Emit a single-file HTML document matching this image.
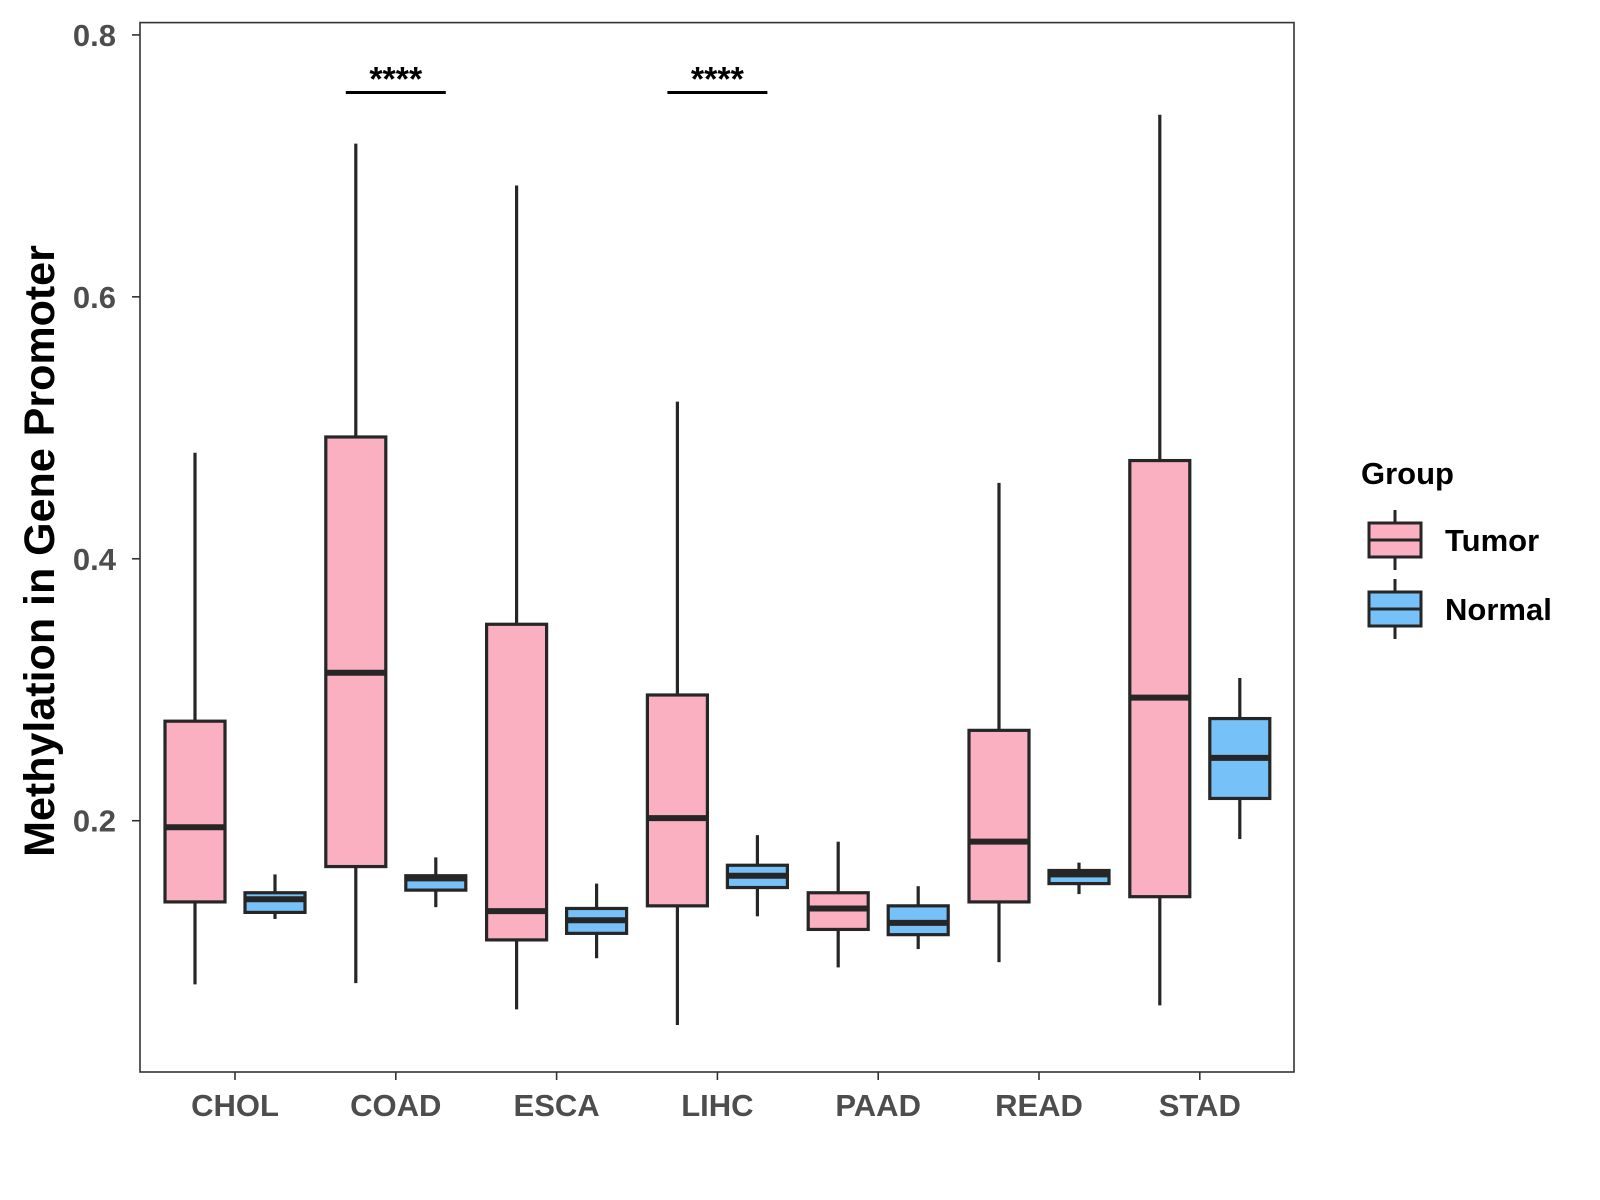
<!DOCTYPE html>
<html><head><meta charset="utf-8"><style>
html,body{margin:0;padding:0;background:#fff;}
svg{display:block;font-family:"Liberation Sans",Arial,sans-serif;}
</style></head><body>
<svg id="chart" width="1600" height="1200" viewBox="0 0 1600 1200">
<rect x="0" y="0" width="1600" height="1200" fill="#fff"/>
<g id="plot"></g>
</svg>
<script>
const categories = ["CHOL","COAD","ESCA","LIHC","PAAD","READ","STAD"];
// [min, Q1, median, Q3, max]
const tumorStats = [
 [0.075,0.138,0.195,0.276,0.481],
 [0.076,0.165,0.313,0.493,0.717],
 [0.056,0.109,0.131,0.350,0.685],
 [0.044,0.135,0.202,0.296,0.520],
 [0.088,0.117,0.133,0.145,0.184],
 [0.092,0.138,0.184,0.269,0.458],
 [0.059,0.142,0.294,0.475,0.739]
];
const normalStats = [
 [0.125,0.130,0.140,0.145,0.159],
 [0.134,0.147,0.156,0.158,0.172],
 [0.095,0.114,0.124,0.133,0.152],
 [0.127,0.149,0.158,0.166,0.189],
 [0.102,0.113,0.122,0.135,0.150],
 [0.144,0.152,0.159,0.162,0.168],
 [0.186,0.217,0.248,0.278,0.309]
];
const yTicks = [0.2,0.4,0.6,0.8];
const yTickLabels = ["0.2","0.4","0.6","0.8"];
const sigCategories = ["COAD","LIHC"];
const sigLabels = ["****","****"];
const sigLevel = 0.756;

const NS="http://www.w3.org/2000/svg";
const g=document.getElementById('plot');
const P={l:140,r:1294,t:22.6,b:1072};
function y(v){return 34.9+(0.8-v)*1309.7;}
function x(i){return 235+i*160.8;}
const off=40, bw=60;
function el(t,a,p){const e=document.createElementNS(NS,t);for(const k in a)e.setAttribute(k,a[k]);(p||g).appendChild(e);return e;}

const frame=el('rect',{x:P.l,y:P.t,width:P.r-P.l,height:P.b-P.t,fill:'none',stroke:'#333',"stroke-width":1.6});



yTicks.forEach((v,i)=>{
 const t=el('line',{x1:P.l-8,x2:P.l,y1:y(v),y2:y(v),stroke:'#333',"stroke-width":1.6});
 
 
 const l=el('text',{x:P.l-24,y:y(v)+11,"text-anchor":"end","font-size":31,"font-weight":"bold",fill:'#4d4d4d'});
 l.textContent=yTickLabels[i];
 
 
});
categories.forEach((c,i)=>{
 const t=el('line',{x1:x(i),x2:x(i),y1:P.b,y2:P.b+8,stroke:'#333',"stroke-width":1.6});
 
 
 const l=el('text',{x:x(i),y:1116,"text-anchor":"middle","font-size":31,"font-weight":"bold",fill:'#4d4d4d'});
 l.textContent=c;
 
 
});

function box(cx,s,fill,name){
 const grp=el('g',{});
 
 
 el('line',{x1:cx,x2:cx,y1:y(s[4]),y2:y(s[3]),stroke:'#262626',"stroke-width":3.2},grp);
 el('line',{x1:cx,x2:cx,y1:y(s[1]),y2:y(s[0]),stroke:'#262626',"stroke-width":3.2},grp);
 el('rect',{x:cx-bw/2,y:y(s[3]),width:bw,height:y(s[1])-y(s[3]),fill:fill,stroke:'#262626',"stroke-width":3.2},grp);
 el('line',{x1:cx-bw/2,x2:cx+bw/2,y1:y(s[2]),y2:y(s[2]),stroke:'#262626',"stroke-width":6},grp);
}
categories.forEach((c,i)=>{
 box(x(i)-off,tumorStats[i],'#fbb0c1','tumor-box-'+c.toLowerCase());
 box(x(i)+off,normalStats[i],'#76c1f7','normal-box-'+c.toLowerCase());
});

sigCategories.forEach((c,k)=>{
 const i=categories.indexOf(c);
 const ln=el('line',{x1:x(i)-off-10,x2:x(i)+off+10,y1:y(sigLevel),y2:y(sigLevel),stroke:'#000',"stroke-width":3});
 
 
 const t=el('text',{x:x(i),y:y(sigLevel)-2,"text-anchor":"middle","font-size":34,"font-weight":"bold",fill:'#000'});
 t.textContent=sigLabels[k];
 
 
});

const yt=el('text',{x:0,y:0,transform:'translate(54,551) rotate(-90)',"text-anchor":"middle","font-size":43,"font-weight":"bold",fill:'#000'});
yt.textContent='Methylation in Gene Promoter';



const lt=el('text',{x:1361,y:484,"font-size":31,"font-weight":"bold",fill:'#000'});
lt.textContent='Group';


[['Tumor','#fbb0c1',540],['Normal','#76c1f7',609]].forEach(([n,f,cy])=>{
 const lg=el('g',{});
 
 
 const cx=1395;
 el('line',{x1:cx,x2:cx,y1:cy-30,y2:cy+30,stroke:'#262626',"stroke-width":3},lg);
 el('rect',{x:cx-26,y:cy-17,width:52,height:34,fill:f,stroke:'#262626',"stroke-width":3},lg);
 el('line',{x1:cx-26,x2:cx+26,y1:cy,y2:cy,stroke:'#262626',"stroke-width":3},lg);
 const t=el('text',{x:1445,y:cy+11,"font-size":31,"font-weight":"bold",fill:'#000'},lg);
 t.textContent=n;
});
</script>
</body></html>
